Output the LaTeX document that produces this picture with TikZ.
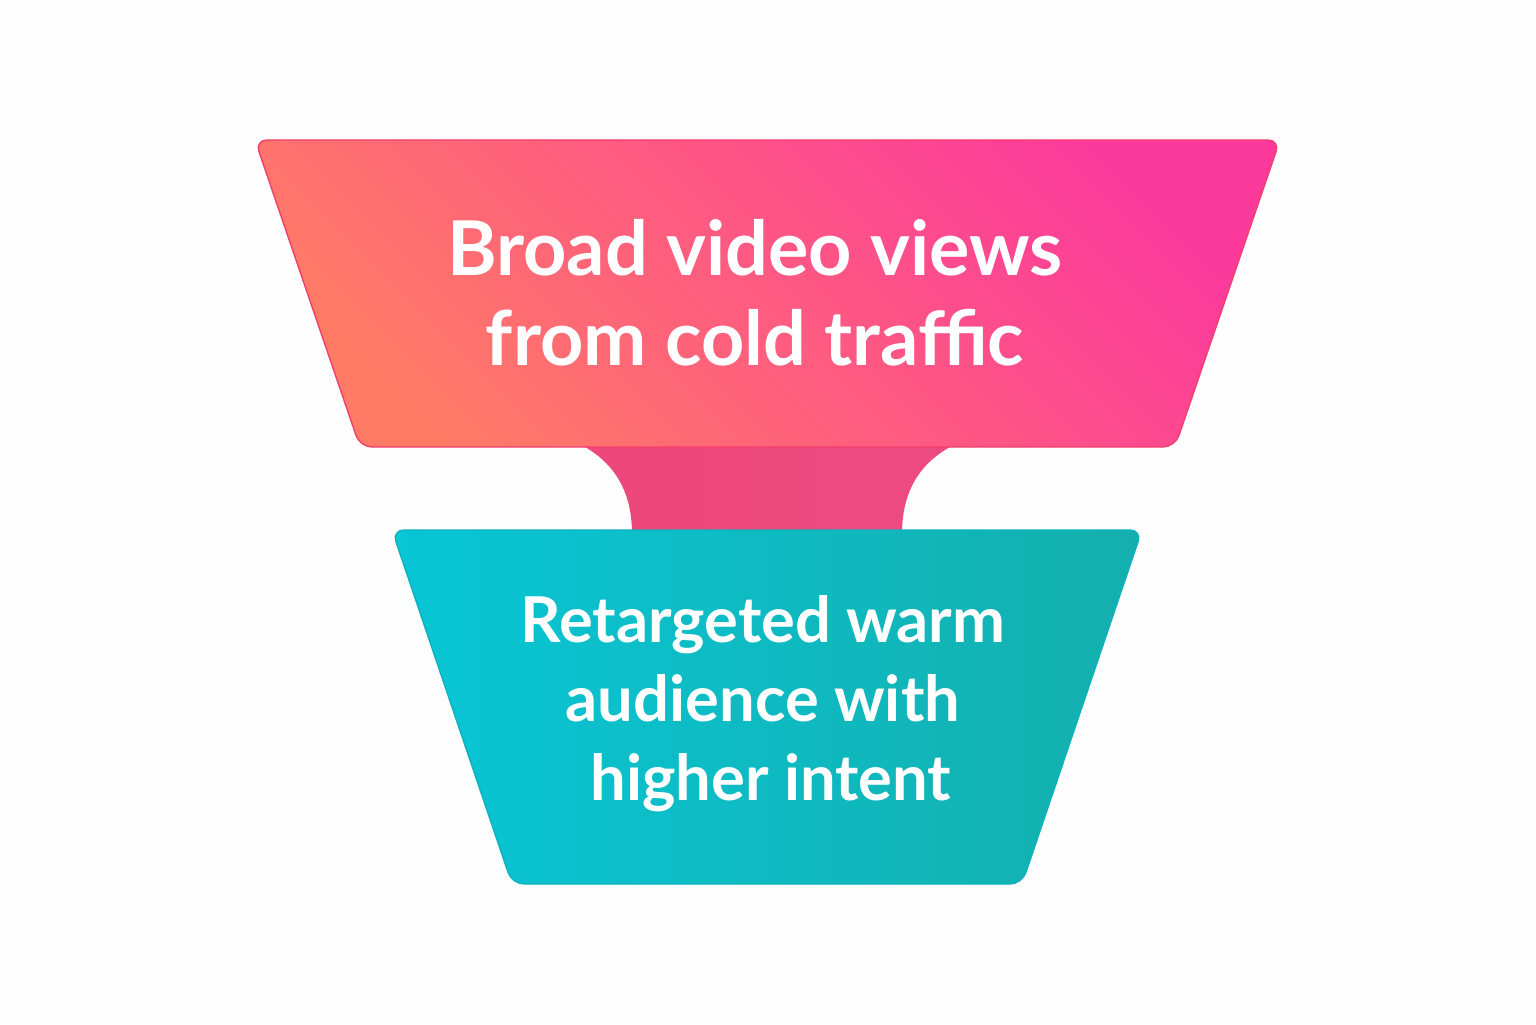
\documentclass[tikz,border=0pt]{standalone}
\usepackage{fontspec}
\setmainfont{Lato}
\definecolor{coldorange}{HTML}{FF7B66}
\definecolor{coldpink}{HTML}{FC3A9C}
\definecolor{coldedge}{HTML}{F23F6E}
\definecolor{neckpink}{HTML}{EC4B82}
\definecolor{warmcyan}{HTML}{08C6D6}
\definecolor{warmteal}{HTML}{14AFAD}
\definecolor{warmedge}{HTML}{0CB3BC}
\definecolor{pagebg}{HTML}{FDFDFD}
\tikzset{
    stage/.style={rounded corners=0.12cm, line width=0.4pt},
    stagetext/.style={text=white, font=\bfseries, align=center, inner sep=0pt}
}
\begin{document}
\begin{tikzpicture}
                                    \useasboundingbox (0,0) rectangle (15.36,10.24);
                                    \fill[pagebg] (0,0) rectangle (15.36,10.24);

                                    % neck between the two stages
                                    \shade[left color=neckpink!95!red, right color=neckpink] (5.85,5.85) -- (5.85,5.77) .. controls (6.18,5.58) and (6.32,5.28) .. (6.32,4.90) -- (9.02,4.90) .. controls (9.02,5.28) and (9.16,5.58) .. (9.50,5.77) -- (9.50,5.85) -- cycle;

                                    % lower stage
                                    \shadedraw[stage, draw=warmedge, left color=warmcyan, right color=warmteal] (3.92,4.94) -- (11.42,4.94) -- (10.22,1.40) -- (5.12,1.40) -- cycle;

                                    % upper stage
                                    \shadedraw[stage, draw=coldedge, bottom color=coldorange, top color=coldpink, shading angle=-45] (2.55,8.84) -- (12.80,8.84) -- (11.75,5.77) -- (3.60,5.77) -- cycle;

                                    \node[stagetext, font=\bfseries\fontsize{21.5}{25.6}\selectfont] (coldtext) at (7.55,7.31) {Broad video views\\from cold traffic};
                                    \node[stagetext, font=\bfseries\fontsize{18}{22.5}\selectfont] (warmtext) at (7.63,3.20) {Retargeted warm\\audience with\\\hspace*{0.16cm}higher intent};
                                \end{tikzpicture}
\end{document}
